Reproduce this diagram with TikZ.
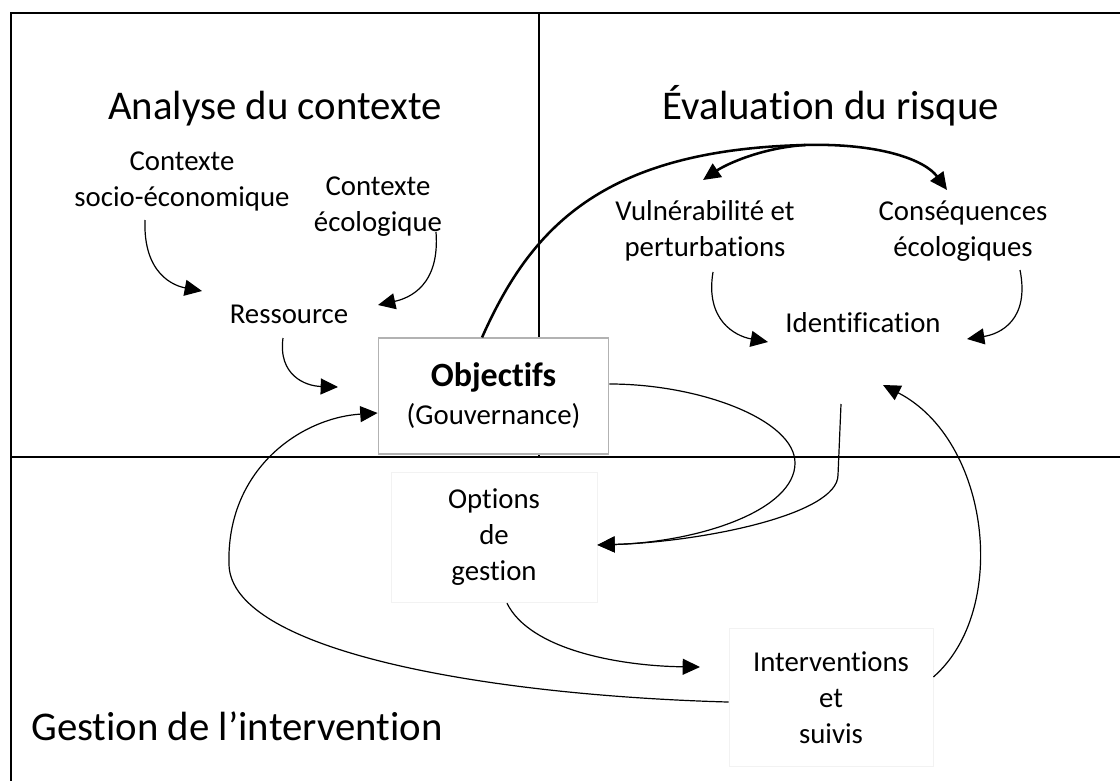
\documentclass[tikz,border=0pt]{standalone}
\usepackage{fontspec}
\setmainfont[Ligatures=NoCommon]{Carlito}
\usetikzlibrary{arrows.meta}
\tikzset{
  panel/.style={line width=2.2pt},
  flow/.style={-{Triangle[length=13pt,width=12pt]}, line width=0.9pt},
  bigflow/.style={flow, line width=1.9pt},
  heading/.style={font=\fontsize{30.6}{36}\selectfont, inner sep=0pt},
  txt/.style={font=\fontsize{21.6}{27}\selectfont, align=center, inner sep=0pt},
  objbox/.style={txt, draw=gray!60, line width=0.9pt, fill=white,
    minimum width=173pt, minimum height=87pt},
  faintbox/.style={txt, draw=gray!10, line width=0.6pt, fill=white}
}
\begin{document}
\begin{tikzpicture}[x=0.75pt,y=-0.75pt]
  \useasboundingbox (0,0) rectangle (1120,781);
  \draw[panel] (11,781) -- (11,13) -- (1120,13);
  \draw[panel] (539,13) -- (539,457);
  \draw[panel] (11,457) -- (1120,457);
  \draw
    (275,120) node[heading, anchor=base] (ctx) {Analyse du contexte}
    (831,120) node[heading, anchor=base] (risk) {Évaluation du risque}
    (31,740) node[heading, anchor=base west] (mgmt) {Gestion de l’intervention}
    (182,181) node[txt] (soc) {Contexte\\socio-économique}
    (378,207) node[txt] (eco) {Contexte\\écologique}
    (289,323) node[txt, anchor=base] (res) {Ressource}
    (705,231) node[txt] (vul) {Vulnérabilité et\\perturbations}
    (963,231) node[txt] (con) {Conséquences\\écologiques}
    (863,332) node[txt, anchor=base] (ide) {Identification}
    (493.5,396) node[objbox, font=\fontsize{21.6}{28.5}\selectfont] (obj)
      {{\bfseries\fontsize{25.5}{28.5}\selectfont Objectifs}\\(Gouvernance)}
    (494,537.5) node[faintbox, minimum width=154.5pt, minimum height=98pt] (opt)
      {Options\\de\\gestion}
    (831,697.5) node[faintbox, minimum width=153pt, minimum height=103pt] (itv)
      {Interventions\\et\\suivis};
  \coordinate (socout) at (145,220);
  \coordinate (resinl) at (202,291);
  \coordinate (ecoout) at (436,232);
  \coordinate (resinr) at (378,305);
  \coordinate (resout) at (283,338);
  \coordinate (objin) at (338,387);
  \coordinate (vulout) at (713,272);
  \coordinate (ideinl) at (768,342);
  \coordinate (conout) at (1020,270);
  \coordinate (ideinr) at (967,339);
  \coordinate (branch) at (805,145);
  \coordinate (vulin) at (703,180);
  \coordinate (conin) at (947,190);
  \coordinate (objloop) at (795,463);
  \coordinate (ideout) at (841,404);
  \coordinate (ideknee) at (838,475);
  \coordinate (itvin) at (700,667);
  \coordinate (loopl) at (229,565);
  \coordinate (idein) at (883,385);
  \begin{scope}[flow]
    \draw (socout) .. controls (143,275) and (175,286) .. (resinl);
    \draw (ecoout) .. controls (440,285) and (410,298) .. (resinr);
    \draw (resout) .. controls (278,375) and (305,386) .. (objin);
    \draw (vulout) .. controls (705,320) and (735,336) .. (ideinl);
    \draw (conout) .. controls (1030,320) and (1000,334) .. (ideinr);
    \draw ([yshift=9pt]obj.east) .. controls (700,384) and (795,420) .. (objloop)
      .. controls (795,510) and (700,542) .. ([yshift=-5.6pt]opt.east);
    \draw (ideout) -- (ideknee) .. controls (838,515) and (700,542) .. ([yshift=-5.6pt]opt.east);
    \draw ([xshift=9.75pt]opt.south) .. controls (530,650) and (620,666) .. (itvin);
    \draw ([yshift=-3.4pt]itv.west) .. controls (480,695) and (232,650) .. (loopl)
      .. controls (226,470) and (300,418) .. ([yshift=-12.75pt]obj.west);
    \draw ([yshift=15.4pt]itv.east) .. controls (1010,610) and (990,440) .. (idein);
  \end{scope}
  \draw[line width=1.9pt] ([xshift=-8.6pt]obj.north) .. controls (530,230) and (600,150) .. (branch);
  \begin{scope}[bigflow]
    \draw (branch) .. controls (760,148) and (725,165) .. (vulin);
    \draw (branch) .. controls (880,143) and (925,160) .. (conin);
  \end{scope}
\end{tikzpicture}
\end{document}
